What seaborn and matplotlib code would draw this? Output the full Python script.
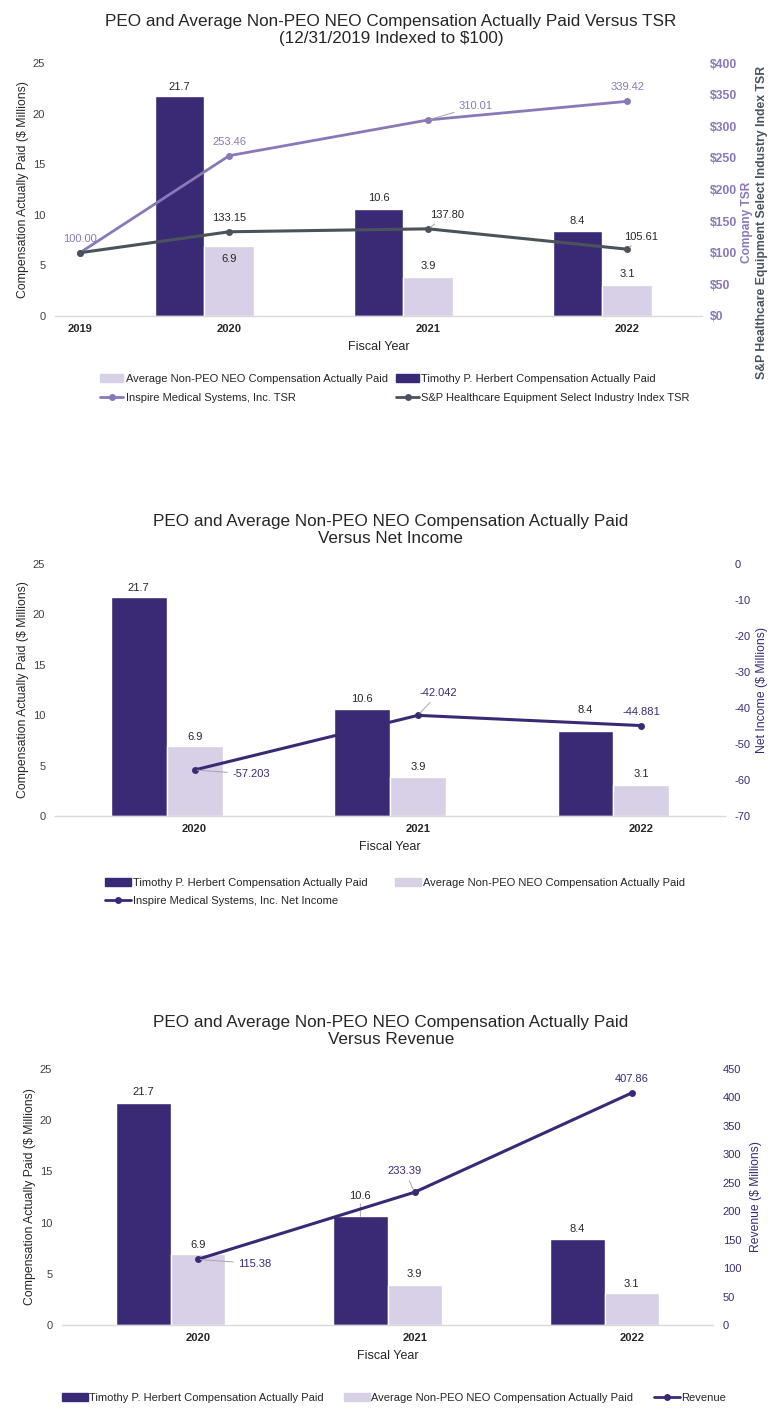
import numpy as np
import pandas as pd
import matplotlib
matplotlib.use("Agg")
import matplotlib.pyplot as plt
import seaborn as sns
from matplotlib.patches import Patch
from matplotlib.lines import Line2D

#Data
bar_years = ["2020", "2021", "2022"]
peo_cap = [21.7, 10.6, 8.4]
neo_cap = [6.9, 3.9, 3.1]
tsr_years = ["2019", "2020", "2021", "2022"]
company_tsr = [100.00, 253.46, 310.01, 339.42]
index_tsr = [100.00, 133.15, 137.80, 105.61]
net_income = [-57.203, -42.042, -44.881]
revenue = [115.38, 233.39, 407.86]

peo_name = "Timothy P. Herbert Compensation Actually Paid"
neo_name = "Average Non-PEO NEO Compensation Actually Paid"

#Colours
dark = "#3A2A76"
light = "#D7D0E6"
tsr_col = "#8A78B9"
idx_col = "#4A535B"
txt = "#262626"
tick_col = "#404040"

sns.set_theme(style="white")
plt.rcParams["font.family"] = ["Liberation Sans", "DejaVu Sans"]
plt.rcParams["axes.unicode_minus"] = False

fig = plt.figure(figsize=(7.82, 14.16), dpi=100)
W, H = 782.0, 1416.0


def px_axes(x0, x1, ytop, ybot):
    return fig.add_axes([x0 / W, 1 - ybot / H, (x1 - x0) / W, (ybot - ytop) / H])


def draw_bars(ax):
    df = pd.DataFrame({
        "year": bar_years * 2,
        "series": [peo_name] * 3 + [neo_name] * 3,
        "value": peo_cap + neo_cap,
    })
    sns.barplot(data=df, x="year", y="value", hue="series", order=bar_years,
                hue_order=[peo_name, neo_name], palette=[dark, light],
                width=0.5, saturation=1, errorbar=None, legend=False, ax=ax)


def label_bars(ax, offsets, leader=None):
    #offsets: points above bar top for each (series, year)
    leader = leader or {}
    for s, cont in enumerate(ax.containers):
        for j, bar in enumerate(cont):
            x = bar.get_x() + bar.get_width() / 2
            h = bar.get_height()
            dy = offsets[s][j]
            kw = {}
            if (s, j) in leader:
                kw["arrowprops"] = dict(arrowstyle="-", color="#A6A6A6", lw=0.7,
                                        shrinkA=0, shrinkB=0)
            ax.annotate(f"{h:.1f}", xy=(x, h), xytext=(0, dy), textcoords="offset points",
                        ha="center", va="center", fontsize=8, color=txt, **kw)


def label_line(ax, xs, ys, fmt, offs, color, leaders):
    for x, y, (dx, dy, ha), ld in zip(xs, ys, offs, leaders):
        kw = {}
        if ld:
            kw["arrowprops"] = dict(arrowstyle="-", color="#A6A6A6", lw=0.7,
                                    shrinkA=1, shrinkB=2)
        ax.annotate(fmt.format(y), xy=(x, y), xytext=(dx, dy), textcoords="offset points",
                    ha=ha, va="center", fontsize=8, color=color, **kw)


def style(ax, ax2, xticks, xlabels):
    ax.set_ylim(0, 25)
    ax.set_yticks([0, 5, 10, 15, 20, 25])
    ax.set_xticks(xticks)
    ax.set_xticklabels(xlabels, fontweight="bold", fontsize=8, color=txt)
    ax.tick_params(axis="x", length=0, pad=6)
    ax.tick_params(axis="y", length=0, pad=7, labelsize=8, labelcolor=tick_col)
    ax.set_xlabel("Fiscal Year", fontsize=9, color=txt, labelpad=5)
    ax.set_ylabel("Compensation Actually Paid ($ Millions)", fontsize=8.8, color=txt, labelpad=3)
    for sp in ["left", "right", "top"]:
        ax.spines[sp].set_visible(False)
    ax.spines["bottom"].set_color("#D9D9D9")
    ax.spines["bottom"].set_linewidth(1)
    for sp in ax2.spines.values():
        sp.set_visible(False)
    ax2.tick_params(axis="y", length=0, pad=7)
    ax2.grid(False)
    ax.grid(False)


bar_pos = np.arange(len(bar_years)) + 0.125

# ---------------- Chart 1: TSR ----------------
fig.text(0.5, 1 - 30 / H, "PEO and Average Non-PEO NEO Compensation Actually Paid Versus TSR\n(12/31/2019 Indexed to $100)",
         ha="center", va="center", fontsize=12.3, color=txt, linespacing=1.15)
ax = px_axes(55, 702, 63, 316)
draw_bars(ax)
ax2 = ax.twinx()
tsr_pos = np.concatenate([[bar_pos[0] - 0.75], bar_pos])
sns.lineplot(x=tsr_pos, y=company_tsr, ax=ax2, color=tsr_col, linewidth=2,
             marker="o", markersize=5, markeredgewidth=0)
sns.lineplot(x=tsr_pos, y=index_tsr, ax=ax2, color=idx_col, linewidth=2.2,
             marker="o", markersize=5, markeredgewidth=0)
ax.set_xlim(-0.75, 2.5)
ax2.set_ylim(0, 400)
ax2.set_yticks(np.arange(0, 401, 50))
ax2.set_yticklabels([f"${v}" for v in range(0, 401, 50)], fontweight="bold",
                    fontsize=8.8, color=tsr_col)
style(ax, ax2, tsr_pos, tsr_years)
ax2.tick_params(axis="y", pad=6)
label_bars(ax, [[7, 8, 7], [-9.5, 7.5, 7.5]])
label_line(ax2, tsr_pos, company_tsr, "{:.2f}",
           [(0, 10, "center"), (0, 10, "center"), (22, 10, "left"), (0, 10, "center")],
           tsr_col, [False, False, True, False])
label_line(ax2, tsr_pos[1:], index_tsr[1:], "{:.2f}",
           [(0, 10, "center"), (1, 10, "left"), (-2, 9, "left")],
           txt, [False, True, True])
ax.text(1.07, 0.37, "Company TSR", transform=ax.transAxes, rotation=90, ha="center",
        va="center", fontsize=8.6, fontweight="bold", color=tsr_col)
ax.text(1.093, 0.37, "S&P Healthcare Equipment Select Industry Index TSR", transform=ax.transAxes,
        rotation=90, ha="center", va="center", fontsize=8.8, fontweight="bold", color=idx_col)
h1 = [Patch(color=light), Line2D([], [], color=tsr_col, lw=2, marker="o", ms=5, mew=0),
      Patch(color=dark), Line2D([], [], color=idx_col, lw=2, marker="o", ms=5, mew=0)]
l1 = [neo_name, "Inspire Medical Systems, Inc. TSR", peo_name,
      "S&P Healthcare Equipment Select Industry Index TSR"]
fig.legend(h1, l1, loc="upper left", bbox_to_anchor=(100 / W, 1 - 374 / H), ncol=2,
           frameon=False, fontsize=8, borderpad=0, borderaxespad=0, handlelength=2.1,
           handleheight=0.7, handletextpad=0.2, columnspacing=0.75, labelspacing=0.8,
           labelcolor=txt)

# ---------------- Chart 2: Net income ----------------
fig.text(0.5, 1 - 530 / H, "PEO and Average Non-PEO NEO Compensation Actually Paid\nVersus Net Income",
         ha="center", va="center", fontsize=12.3, color=txt, linespacing=1.15)
ax = px_axes(55, 725, 564, 816)
draw_bars(ax)
ax2 = ax.twinx()
sns.lineplot(x=bar_pos, y=net_income, ax=ax2, color=dark, linewidth=2.2,
             marker="o", markersize=5, markeredgewidth=0)
ax.set_xlim(-0.5, 2.5)
ax2.set_ylim(-70, 0)
ax2.set_yticks(np.arange(-70, 1, 10))
ax2.tick_params(axis="y", labelsize=8, labelcolor=dark)
style(ax, ax2, bar_pos, bar_years)
ax2.set_ylabel("Net Income ($ Millions)", fontsize=8.8, color=dark, labelpad=4)
label_bars(ax, [[7, 7, 15], [6.5, 7, 8]])
label_line(ax2, bar_pos, net_income, "{:.3f}",
           [(27, -3, "left"), (15, 16, "center"), (0, 10, "center")],
           dark, [True, True, False])
h2 = [Patch(color=dark), Line2D([], [], color=dark, lw=2, marker="o", ms=5, mew=0),
      Patch(color=light)]
l2 = [peo_name, "Inspire Medical Systems, Inc. Net Income", neo_name]
fig.legend(h2, l2, loc="upper left", bbox_to_anchor=(105 / W, 1 - 878 / H), ncol=2,
           frameon=False, fontsize=8, borderpad=0, borderaxespad=0, handlelength=2.3,
           handleheight=0.7, handletextpad=0.2, columnspacing=2.5, labelspacing=0.75,
           labelcolor=txt)

# ---------------- Chart 3: Revenue ----------------
fig.text(0.5, 1 - 1031 / H, "PEO and Average Non-PEO NEO Compensation Actually Paid\nVersus Revenue",
         ha="center", va="center", fontsize=12.3, color=txt, linespacing=1.15)
ax = px_axes(62, 713, 1069, 1325)
draw_bars(ax)
ax2 = ax.twinx()
sns.lineplot(x=bar_pos, y=revenue, ax=ax2, color=dark, linewidth=2.2,
             marker="o", markersize=5, markeredgewidth=0)
ax.set_xlim(-0.5, 2.5)
ax2.set_ylim(0, 450)
ax2.set_yticks(np.arange(0, 451, 50))
ax2.tick_params(axis="y", labelsize=8, labelcolor=dark)
style(ax, ax2, bar_pos, bar_years)
ax2.set_ylabel("Revenue ($ Millions)", fontsize=8.7, color=dark, labelpad=6)
label_bars(ax, [[8, 15, 7], [7, 8, 7]], leader={(0, 1): True})
label_line(ax2, bar_pos, revenue, "{:.2f}",
           [(29, -3, "left"), (-7, 15, "center"), (0, 10, "center")],
           dark, [True, True, False])
h3 = [Patch(color=dark), Patch(color=light),
      Line2D([], [], color=dark, lw=2, marker="o", ms=5, mew=0)]
l3 = [peo_name, neo_name, "Revenue"]
fig.legend(h3, l3, loc="upper left", bbox_to_anchor=(62 / W, 1 - 1393 / H), ncol=3,
           frameon=False, fontsize=8, borderpad=0, borderaxespad=0, handlelength=2.3,
           handleheight=0.7, handletextpad=0.1, columnspacing=1.9,
           labelcolor=txt)

fig.savefig("out.png", dpi=100, facecolor="white")
